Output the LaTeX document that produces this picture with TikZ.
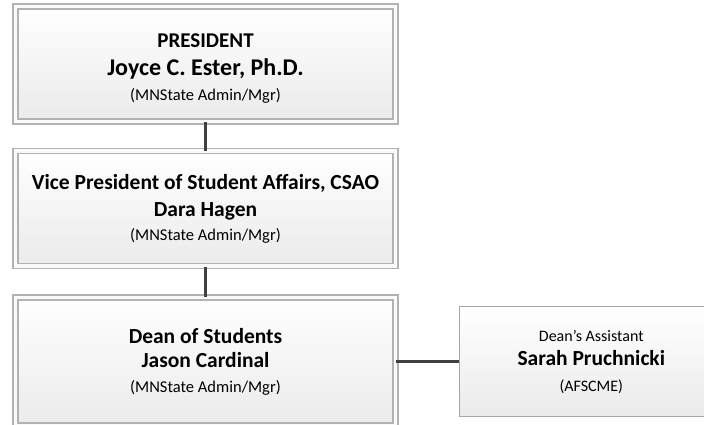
\documentclass[tikz,border=0pt]{standalone}
\usepackage{fontspec}
\setmainfont{Carlito}
\usetikzlibrary{positioning}

\begin{document}
\begin{tikzpicture}[x=1pt,y=-1pt,
    office/.style={draw=black!30,line width=1.3pt,double=black!2,double distance=3.7pt,
      top color=white,bottom color=black!8,minimum width=380pt,minimum height=115pt,
      inner sep=0pt,align=center,font=\fontsize{16.5}{27}\selectfont},
    helper/.style={draw=black!35,line width=1.3pt,top color=white,bottom color=black!8,
      minimum width=264pt,minimum height=110pt,inner sep=0pt,align=center,
      font=\fontsize{16}{24}\selectfont},
    link/.style={draw=black!75,line width=2.4pt}]
  \path[use as bounding box,clip] (0,0) rectangle (704,425);

  \node[office] (pres) at (205.5,64)
    {\rule{0pt}{22pt}{\fontsize{21}{24}\selectfont\bfseries PRESIDENT}\\[1pt]
     {\fontsize{24}{27}\selectfont\bfseries Joyce C. Ester, Ph.D.}\\[-2pt]
     (MNState Admin/Mgr)};
  \node[office,below=28.5pt of pres] (vp)
    {{\fontsize{21.5}{27}\selectfont\bfseries Vice President of Student Affairs, CSAO}\\
     {\fontsize{21.5}{27}\selectfont\bfseries Dara Hagen}\\[-3pt]
     (MNState Admin/Mgr)};
  \node[office,below=30pt of vp,minimum height=128pt] (dean)
    {{\fontsize{21.5}{27}\selectfont\bfseries Dean of Students}\\[-3pt]
     {\fontsize{21.5}{27}\selectfont\bfseries Jason Cardinal}\\[-2pt]
     (MNState Admin/Mgr)};
  \node[helper,right=62.5pt of dean] (asst)
    {Dean’s Assistant\\
     {\fontsize{21.5}{24}\selectfont\bfseries Sarah Pruchnicki}\\[2pt]
     (AFSCME)};

  \draw[link] (pres) -- (vp);
  \draw[link] (vp) -- (dean);
  \draw[link] (dean) -- (asst);
\end{tikzpicture}
\end{document}
